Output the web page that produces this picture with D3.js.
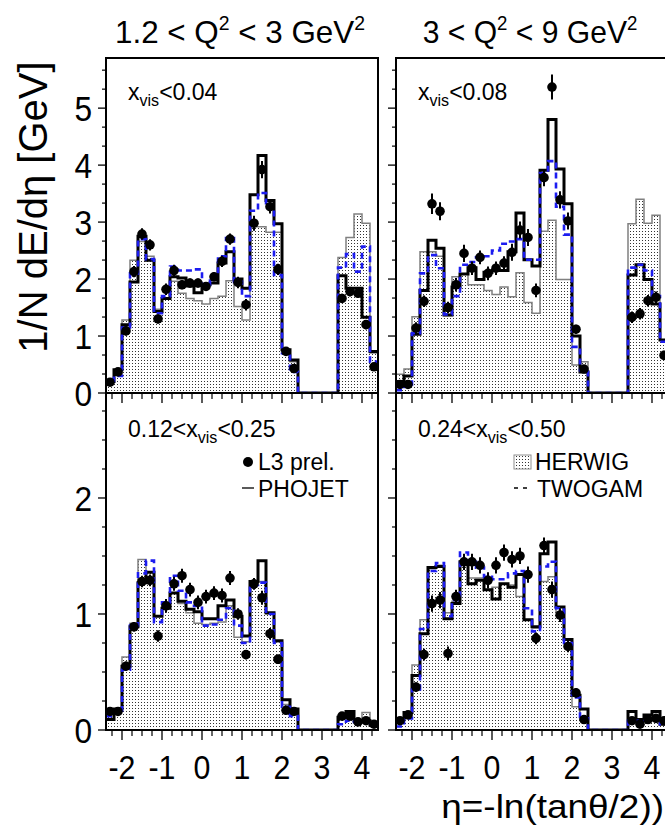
<!DOCTYPE html>
<html><head><meta charset="utf-8">
<script src="https://cdn.jsdelivr.net/npm/d3@7/dist/d3.min.js"></script>
<style>
html,body{margin:0;padding:0;background:#fff;overflow:hidden}
svg{display:block;font-family:"Liberation Sans",Arial,Helvetica,sans-serif}
</style></head><body>
<svg id="chart" width="665" height="825"></svg>
<script>
// Pseudorapidity bin centres (bin width 0.2); 2.5..3.3 is the uninstrumented gap
const eta = [-2.3,-2.1,-1.9,-1.7,-1.5,-1.3,-1.1,-0.9,-0.7,-0.5,-0.3,-0.1,0.1,0.3,0.5,0.7,0.9,1.1,1.3,1.5,1.7,1.9,2.1,2.3,
             2.5,2.7,2.9,3.1,3.3, 3.5,3.7,3.9,4.1,4.3];
const binWidth = 0.2;
const _ = null;

// 1.2 < Q2 < 3 GeV2, x_vis < 0.04
const dataA   = [0.19,0.37,1.09,2.13,2.79,2.60,1.30,1.82,2.15,1.90,1.93,1.93,1.87,2.04,2.31,2.70,1.94,1.55,2.98,3.92,3.27,2.17,0.73,0.43, _,_,_,_,_, 1.66,1.78,1.75,1.20,0.46];
const errA    = [0.05,0.05,0.08,0.10,0.10,0.10,0.08,0.10,0.10,0.08,0.08,0.08,0.08,0.08,0.10,0.10,0.10,0.10,0.13,0.15,0.12,0.10,0.06,0.05, _,_,_,_,_, 0.08,0.08,0.08,0.08,0.05];
const phojetA = [0.20,0.41,1.20,1.95,2.75,2.33,1.43,1.66,2.04,2.02,1.88,1.76,1.90,1.93,2.28,2.48,2.00,1.84,3.48,4.17,3.38,2.97,0.76,0.58, 0,0,0,0,0, 2.06,1.84,1.84,1.33,0.73];
const herwigA = [0.18,0.33,1.28,2.33,2.66,2.40,1.47,1.66,1.96,1.75,1.66,1.62,1.56,1.66,1.70,1.97,1.52,1.28,2.92,2.92,2.82,2.82,0.73,0.55, 0,0,0,0,0, 2.38,2.73,3.14,2.98,0.70];
const twogamA = [0.15,0.30,1.15,2.10,2.70,2.35,1.40,1.70,2.22,2.15,2.15,2.17,1.90,2.05,2.40,2.72,1.95,1.70,3.20,3.51,3.25,2.07,0.70,0.37, 0,0,0,0,0, 2.20,2.44,2.13,2.57,0.55];

// 3 < Q2 < 9 GeV2, x_vis < 0.08
const dataB   = [0.15,0.15,1.14,1.61,3.32,3.19,1.50,1.90,2.45,2.19,2.38,2.10,2.19,2.28,2.47,2.86,2.73,1.80,3.78,5.37,3.39,3.02,1.12,0.42, _,_,_,_,_, 1.33,1.39,1.62,1.68,0.66];
const errB    = [0.05,0.05,0.10,0.10,0.18,0.16,0.10,0.12,0.15,0.12,0.12,0.12,0.12,0.12,0.15,0.15,0.15,0.12,0.15,0.22,0.15,0.15,0.08,0.06, _,_,_,_,_, 0.10,0.10,0.10,0.10,0.08];
const phojetB = [0.20,0.30,1.03,1.80,2.68,2.54,1.37,1.86,2.09,2.20,1.99,2.12,2.15,2.15,2.48,3.16,2.34,2.23,3.91,4.80,3.93,3.32,1.00,0.37, 0,0,0,0,0, 2.07,2.25,1.99,1.56,0.93];
const herwigB = [0.33,0.42,1.34,2.48,2.48,2.40,1.36,2.04,2.09,1.90,1.90,1.80,1.73,1.86,1.69,2.11,1.59,1.40,2.84,3.03,1.99,1.99,0.49,0.55, 0,0,0,0,0, 2.97,3.40,2.98,3.12,0.93];
const twogamB = [0.05,0.15,1.05,2.10,2.42,2.19,1.38,1.70,2.25,2.30,2.38,2.40,2.50,2.62,2.66,2.70,2.34,2.34,3.86,4.07,3.27,2.78,0.81,0.40, 0,0,0,0,0, 2.20,2.25,2.15,1.70,0.90];

// 1.2 < Q2 < 3 GeV2, 0.12 < x_vis < 0.25
const dataC   = [0.16,0.16,0.55,0.89,1.28,1.29,0.81,1.07,1.26,1.33,1.21,1.10,1.15,1.18,1.16,1.31,1.00,0.65,1.26,1.14,0.83,0.61,0.17,0.16, _,_,_,_,_, 0.12,0.12,0.07,0.08,0.05];
const errC    = [0.03,0.03,0.04,0.04,0.05,0.05,0.05,0.06,0.06,0.06,0.06,0.06,0.06,0.06,0.06,0.06,0.05,0.04,0.05,0.06,0.05,0.04,0.03,0.03, _,_,_,_,_, 0.03,0.03,0.03,0.03,0.03];
const phojetC = [0.09,0.18,0.55,0.89,1.27,1.36,0.98,1.05,1.18,1.11,1.04,1.02,0.96,0.96,1.07,1.12,0.98,0.81,1.28,1.46,1.01,0.77,0.26,0.18, 0,0,0,0,0, 0.11,0.16,0.08,0.08,0.04];
const herwigC = [0.16,0.17,0.63,0.92,1.47,1.36,0.98,1.10,1.18,1.09,1.01,0.92,0.91,0.92,0.93,1.07,0.80,0.76,1.26,1.28,1.00,0.76,0.22,0.15, 0,0,0,0,0, 0.10,0.15,0.06,0.15,0.05];
const twogamC = [0.12,0.15,0.52,0.90,1.35,1.46,0.93,1.10,1.33,1.20,1.10,1.07,0.90,0.91,0.95,1.05,0.90,0.75,1.25,1.27,1.00,0.75,0.20,0.12, 0,0,0,0,0, 0.05,0.08,0.07,0.08,0.06];

// 3 < Q2 < 9 GeV2, 0.24 < x_vis < 0.50
const dataD   = [0.08,0.13,0.37,0.65,1.09,1.12,0.66,1.15,1.45,1.45,1.42,1.29,1.42,1.53,1.47,1.50,1.34,0.79,1.59,1.21,0.99,0.72,0.32,0.09, _,_,_,_,_, 0.08,0.05,0.09,0.10,0.08];
const errD    = [0.03,0.03,0.04,0.05,0.07,0.07,0.06,0.06,0.07,0.07,0.07,0.07,0.07,0.07,0.07,0.07,0.07,0.05,0.07,0.07,0.06,0.05,0.04,0.03, _,_,_,_,_, 0.03,0.03,0.03,0.03,0.03];
const phojetD = [0.10,0.15,0.47,0.83,1.40,1.41,0.96,1.09,1.45,1.26,1.29,1.21,1.13,1.26,1.23,1.34,0.95,0.89,1.52,1.62,1.06,0.78,0.30,0.18, 0,0,0,0,0, 0.16,0.09,0.13,0.16,0.05];
const herwigD = [0.08,0.13,0.56,0.95,1.39,1.42,1.01,1.11,1.45,1.31,1.31,1.21,1.23,1.26,1.25,1.15,0.95,0.88,1.28,1.32,1.02,0.78,0.20,0.10, 0,0,0,0,0, 0.09,0.08,0.10,0.10,0.05];
const twogamD = [0.03,0.10,0.35,0.87,1.37,1.44,0.98,1.12,1.53,1.45,1.40,1.32,1.30,1.30,1.35,1.37,1.05,0.85,1.41,1.45,1.05,0.75,0.28,0.10, 0,0,0,0,0, 0.08,0.08,0.08,0.10,0.05];

const columnTitles = [["1.2 < Q", ["2","sup"], " < 3 GeV", ["2","sup"]], ["3 < Q", ["2","sup"], " < 9 GeV", ["2","sup"]]];
const xTickLabels = ["-2","-1","0","1","2","3","4"];
const yTickLabelsTop = ["0","1","2","3","4","5"];
const yTickLabelsBottom = ["0","1","2"];

const svg = d3.select("#chart");
const defs = svg.append("defs");

// fine dot hatching used for the HERWIG fill
const pat = defs.append("pattern").attr("id","dots").attr("patternUnits","userSpaceOnUse")
  .attr("width",3).attr("height",3);
pat.append("rect").attr("width",3).attr("height",3).attr("fill","#fff");
pat.append("rect").attr("x",0).attr("y",0).attr("width",1).attr("height",1).attr("fill","#333");

function richText(parent, x, y, parts, {size, anchor="start", sx=1}) {
  const t = parent.append("text")
    .attr("transform", `translate(${x},${y}) scale(${sx},1)`)
    .attr("font-size", size).attr("text-anchor", anchor).attr("fill","#000");
  let shift = 0;
  parts.forEach(p => {
    const [str, kind] = Array.isArray(p) ? p : [p, null];
    const target = kind === "sup" ? -0.42*size : kind === "sub" ? 0.26*size : 0;
    const ts = t.append("tspan").text(str).attr("dy", target - shift);
    if (kind) ts.attr("font-size", size*(kind === "sup" ? 0.62 : 0.7));
    shift = target;
  });
  return t;
}

const cols = [{x0:106, x1:378}, {x0:396, x1:668}];
const rows = [
  {y0:58, y1:393, max:5.88, major:[0,1,2,3,4,5], minor:d3.range(1,18).map(k=>k/3).filter(v=>Math.abs(v-Math.round(v))>1e-6), labels:yTickLabelsTop},
  {y0:393, y1:730, max:2.905, major:[0,1,2], minor:d3.range(1,12).map(k=>k*0.25).filter(v=>Math.abs(v-Math.round(v))>1e-6), labels:yTickLabelsBottom}
];
const xMajor = [-2,-1,0,1,2,3,4];
const xMinor = d3.range(-9,18).map(k=>k*0.25).filter(v=>Math.abs(v-Math.round(v))>1e-6);

const panels = [
  {c:0, r:0, data:dataA, err:errA, phojet:phojetA, herwig:herwigA, twogam:twogamA, label:["x",["vis","sub"],"<0.04"]},
  {c:1, r:0, data:dataB, err:errB, phojet:phojetB, herwig:herwigB, twogam:twogamB, label:["x",["vis","sub"],"<0.08"]},
  {c:0, r:1, data:dataC, err:errC, phojet:phojetC, herwig:herwigC, twogam:twogamC, label:["0.12<x",["vis","sub"],"<0.25"]},
  {c:1, r:1, data:dataD, err:errD, phojet:phojetD, herwig:herwigD, twogam:twogamD, label:["0.24<x",["vis","sub"],"<0.50"]},
];

function stepPoints(vals) {
  const pts = [];
  eta.forEach((c,i) => { pts.push([c-binWidth/2, vals[i]]); pts.push([c+binWidth/2, vals[i]]); });
  return pts;
}

panels.forEach((p, idx) => {
  const col = cols[p.c], row = rows[p.r];
  const x = d3.scaleLinear([-2.4, 4.4], [col.x0, col.x1]);
  const y = d3.scaleLinear([0, row.max], [row.y1, row.y0]);
  const g = svg.append("g");
  const clipId = "clip" + idx;
  defs.append("clipPath").attr("id", clipId).append("rect")
    .attr("x", col.x0).attr("y", row.y0).attr("width", col.x1-col.x0).attr("height", row.y1-row.y0);
  const inner = g.append("g").attr("clip-path", `url(#${clipId})`);

  const line = d3.line().x(d=>x(d[0])).y(d=>y(d[1]));
  const area = d3.area().x(d=>x(d[0])).y0(y(0)).y1(d=>y(d[1]));

  // HERWIG: hatched area with thin grey outline
  inner.append("path").attr("d", area(stepPoints(p.herwig))).attr("fill","url(#dots)");
  inner.append("path").attr("d", line(stepPoints(p.herwig))).attr("fill","none")
    .attr("stroke","#808080").attr("stroke-width",1.5);
  // PHOJET: thick solid line
  inner.append("path").attr("d", line(stepPoints(p.phojet))).attr("fill","none")
    .attr("stroke","#000").attr("stroke-width",3);
  // TWOGAM: blue dashed line
  inner.append("path").attr("d", line(stepPoints(p.twogam))).attr("fill","none")
    .attr("stroke","#1c1cf0").attr("stroke-width",2.6).attr("stroke-dasharray","6,4");

  // L3 data with statistical errors
  const pts = eta.map((c,i)=>({c, v:p.data[i], e:p.err[i]})).filter(d=>d.v!==null);
  inner.selectAll("line.err").data(pts).join("line").attr("class","err")
    .attr("x1", d=>x(d.c)).attr("x2", d=>x(d.c))
    .attr("y1", d=>y(d.v - d.e)).attr("y2", d=>y(d.v + d.e))
    .attr("stroke","#000").attr("stroke-width",2);
  inner.selectAll("circle").data(pts).join("circle")
    .attr("cx", d=>x(d.c)).attr("cy", d=>y(d.v)).attr("r",4.8).attr("fill","#000");

  // frame
  g.append("rect").attr("x", col.x0).attr("y", row.y0).attr("width", col.x1-col.x0).attr("height", row.y1-row.y0)
    .attr("fill","none").attr("stroke","#000").attr("stroke-width",2);

  // y ticks pointing outward
  g.selectAll("line.ymaj").data(row.major).join("line")
    .attr("x1", col.x0-8).attr("x2", col.x0).attr("y1", d=>y(d)).attr("y2", d=>y(d))
    .attr("stroke","#000").attr("stroke-width",1.3);
  g.selectAll("line.ymin").data(row.minor).join("line")
    .attr("x1", col.x0-4).attr("x2", col.x0).attr("y1", d=>y(d)).attr("y2", d=>y(d))
    .attr("stroke","#000").attr("stroke-width",1.2);
  // x ticks pointing downward
  g.selectAll("line.xmaj").data(xMajor).join("line")
    .attr("x1", d=>x(d)).attr("x2", d=>x(d)).attr("y1", row.y1).attr("y2", row.y1+10)
    .attr("stroke","#000").attr("stroke-width",1.3);
  g.selectAll("line.xmin").data(xMinor).join("line")
    .attr("x1", d=>x(d)).attr("x2", d=>x(d)).attr("y1", row.y1).attr("y2", row.y1+6)
    .attr("stroke","#000").attr("stroke-width",1.2);

  if (p.c === 0) {
    row.major.forEach((v,i) => richText(svg, col.x0-14, y(v)+13, [row.labels[i]], {size:36, anchor:"end", sx:0.88}));
  }
  if (p.r === 1) {
    xMajor.forEach((v,i) => richText(svg, x(v), 779, [xTickLabels[i]], {size:33, anchor:"middle", sx:0.92}));
  }
  richText(svg, x(-2.4)+22, p.r === 0 ? 100 : 437, p.label, {size:23});
});

// column titles
richText(svg, 240, 43, columnTitles[0], {size:32, anchor:"middle", sx:0.98});
richText(svg, 530, 43, columnTitles[1], {size:32, anchor:"middle", sx:0.94});

// axis titles
richText(svg, 0, 0, ["1/N dE/d\u03b7 [GeV]"], {size:40, anchor:"middle"})
  .attr("transform","translate(47,207) rotate(-90)");
richText(svg, 664, 818, ["\u03b7=-ln(tan\u03b8/2))"], {size:33, anchor:"end", sx:1.12});

// legend: data + PHOJET
const lg = svg.append("g");
lg.append("circle").attr("cx",248).attr("cy",462).attr("r",5).attr("fill","#000");
richText(lg, 258, 470, ["L3 prel."], {size:23});
lg.append("line").attr("x1",242).attr("x2",254).attr("y1",488).attr("y2",488).attr("stroke","#000").attr("stroke-width",1.3);
richText(lg, 258, 497, ["PHOJET"], {size:23});
// legend: HERWIG + TWOGAM
lg.append("rect").attr("x",514).attr("y",455).attr("width",17).attr("height",14)
  .attr("fill","url(#dots)").attr("stroke","#909090").attr("stroke-width",1);
richText(lg, 535, 470, ["HERWIG"], {size:23});
lg.append("line").attr("x1",514).attr("x2",531).attr("y1",488).attr("y2",488)
  .attr("stroke","#000").attr("stroke-width",1.3).attr("stroke-dasharray","4,5");
richText(lg, 537, 497, ["TWOGAM"], {size:23});
</script>
</body></html>
